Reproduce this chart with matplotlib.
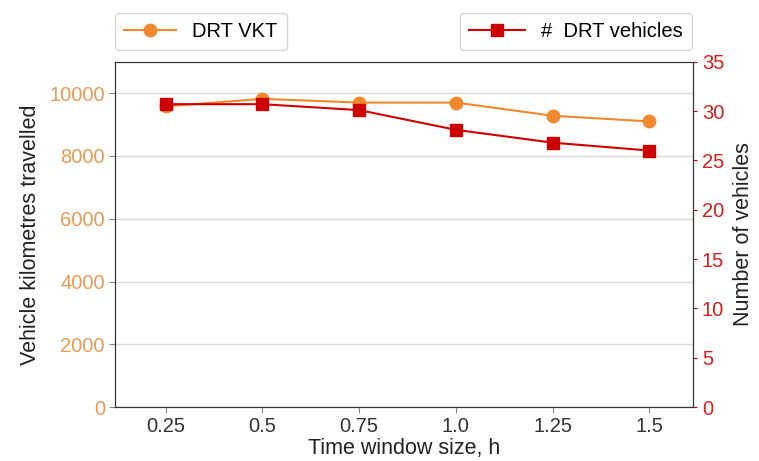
import matplotlib.pyplot as plt

plt.rcParams['font.family'] = ['Liberation Sans', 'DejaVu Sans']

# data
window_labels = ['0.25', '0.5', '0.75', '1.0', '1.25', '1.5']
vkt = [9580, 9820, 9700, 9700, 9280, 9100]
vehicles = [30.7, 30.7, 30.1, 28.1, 26.8, 26.0]

orange = '#F0892E'
red = '#CC0000'
x = list(range(len(window_labels)))

fig, ax = plt.subplots(figsize=(7.59, 4.61), dpi=100)
fig.subplots_adjust(left=0.152, right=0.913, top=0.866, bottom=0.117)

l1, = ax.plot(x, vkt, marker='o', color=orange, markersize=9, linewidth=1.5,
              label='DRT VKT', zorder=3)
ax.set_ylim(0, 11000)
ax.set_yticks(range(0, 11000, 2000))
ax.set_xlim(-0.52, 5.45)
ax.set_xticks(x)
ax.set_xticklabels(window_labels)
ax.tick_params(axis='y', colors='#888888', labelcolor='#EA9A55', labelsize=14.5, length=4)
ax.tick_params(axis='x', colors='#888888', labelcolor='#333333', labelsize=14.5, length=4)
ax.set_ylabel('Vehicle kilometres travelled', fontsize=15.5, color='#222222', labelpad=6)
ax.set_xlabel('Time window size, h', fontsize=15.5, color='#222222', labelpad=1)
ax.grid(axis='y', color='#d9d9d9', linewidth=1)
ax.set_axisbelow(True)
for s in ax.spines.values():
    s.set_color('#333333')

ax2 = ax.twinx()
l2, = ax2.plot(x, vehicles, marker='s', color=red, markersize=9, linewidth=1.5,
               label='#  DRT vehicles', zorder=4)
ax2.set_ylim(0, 35)
ax2.set_yticks(range(0, 36, 5))
ax2.tick_params(axis='y', colors=red, labelcolor='#D42020', labelsize=14.5, length=3)
ax2.set_ylabel('Number of vehicles', fontsize=15.5, color='#222222', labelpad=6)
for s in ax2.spines.values():
    s.set_color('#333333')

leg1 = fig.legend(handles=[l1], loc='upper left', bbox_to_anchor=(0.138, 0.993),
                  fontsize=14.5, frameon=True, edgecolor='#cccccc', fancybox=True,
                  handlelength=2.6, borderpad=0.45)
leg2 = fig.legend(handles=[l2], loc='upper right', bbox_to_anchor=(0.925, 0.993),
                  fontsize=14.5, frameon=True, edgecolor='#cccccc', fancybox=True,
                  handlelength=2.8, borderpad=0.45)

fig.savefig('out.png', dpi=100)
